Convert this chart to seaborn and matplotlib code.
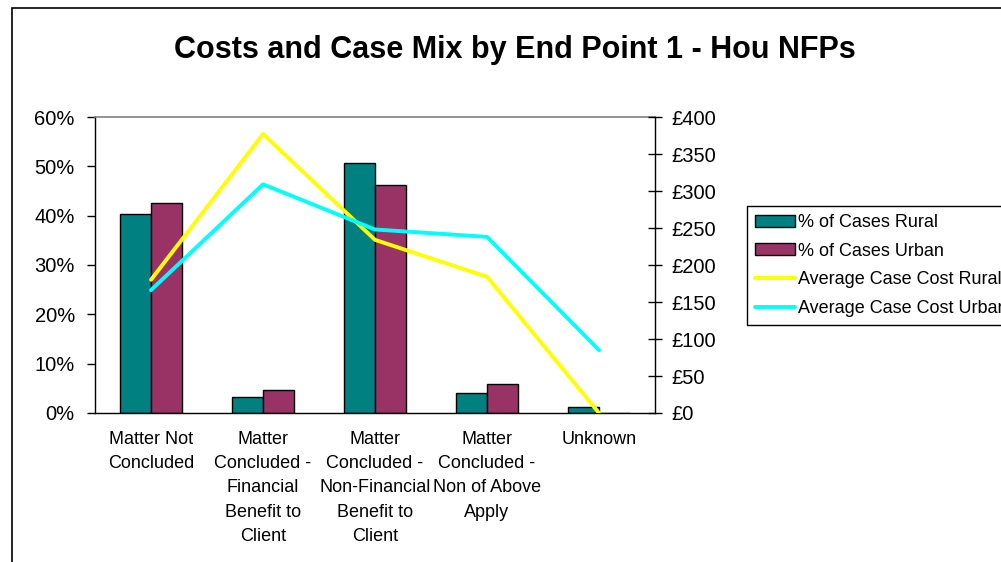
import matplotlib
matplotlib.use("Agg")
import matplotlib.pyplot as plt
import seaborn as sns
import numpy as np
import pandas as pd
from matplotlib.patches import Patch, Rectangle
from matplotlib.lines import Line2D
from matplotlib.ticker import FuncFormatter, MultipleLocator

categories = [
    "Matter Not\nConcluded",
    "Matter\nConcluded -\nFinancial\nBenefit to\nClient",
    "Matter\nConcluded -\nNon-Financial\nBenefit to\nClient",
    "Matter\nConcluded -\nNon of Above\nApply",
    "Unknown",
]
pct_rural = [40.3, 3.2, 50.7, 4.1, 1.15]
pct_urban = [42.6, 4.7, 46.2, 5.9, 0.0]
cost_rural = [180, 377, 234, 184, 0]
cost_urban = [166, 309, 248, 238, 85]
bar_series = ["% of Cases Rural", "% of Cases Urban"]
line_series = ["Average Case Cost Rural", "Average Case Cost Urban"]
title = "Costs and Case Mix by End Point 1 - Hou NFPs"

sns.set_theme(style="white")
plt.rcParams["font.family"] = ["Liberation Sans", "DejaVu Sans"]
plt.rcParams["text.color"] = "black"
plt.rcParams["xtick.color"] = "black"
plt.rcParams["ytick.color"] = "black"

W, H = 1001, 562
fig = plt.figure(figsize=(W / 100, H / 100), dpi=100)
ax = fig.add_axes([95 / W, 1 - 413 / H, (655 - 95) / W, (413 - 117) / H])

bars_df = pd.DataFrame({
    "cat": categories * 2,
    "val": pct_rural + pct_urban,
    "series": [bar_series[0]] * 5 + [bar_series[1]] * 5,
})
bar_colors = ["#008080", "#993366"]
sns.barplot(data=bars_df, x="cat", y="val", hue="series", order=categories,
            hue_order=bar_series, palette=bar_colors, width=0.56, dodge=True,
            edgecolor="black", linewidth=1.0, saturation=1, ax=ax, legend=False)
ax.set_xlim(-0.5, len(categories) - 0.5)
ax.set_ylim(0, 60)
ax.yaxis.set_major_locator(MultipleLocator(10))
ax.yaxis.set_major_formatter(FuncFormatter(lambda v, p: f"{v:.0f}%"))
ax.set_xlabel("")
ax.set_ylabel("")
ax.set_xticks(range(len(categories)))
ax.set_xticklabels(categories, fontsize=13, linespacing=1.55, va="top")
ax.set_xticks(np.arange(-0.5, len(categories), 1), minor=True)
ax.tick_params(axis="x", which="major", length=0, pad=13)
ax.tick_params(axis="x", which="minor", length=5, width=1, color="black", direction="out")
ax.tick_params(axis="y", which="major", length=6, width=1, color="black",
               direction="out", labelsize=14.5, pad=8.5, left=True)

for s in ["left", "bottom"]:
    ax.spines[s].set_color("black")
    ax.spines[s].set_linewidth(1)
ax.spines["top"].set_color("#808080")
ax.spines["top"].set_linewidth(1.2)
ax.spines["right"].set_visible(False)

ax2 = ax.twinx()
lines_df = pd.DataFrame({
    "x": list(np.arange(len(categories))) * 2,
    "cost": cost_rural + cost_urban,
    "series": [line_series[0]] * 5 + [line_series[1]] * 5,
})
line_colors = ["#FFFF00", "#00FFFF"]
sns.lineplot(data=lines_df, x="x", y="cost", hue="series", hue_order=line_series,
             palette=line_colors, linewidth=2.8, ax=ax2, legend=False)
ax2.set_xlim(-0.5, len(categories) - 0.5)
ax2.set_ylim(0, 400)
ax2.yaxis.set_major_locator(MultipleLocator(50))
ax2.yaxis.set_major_formatter(FuncFormatter(lambda v, p: f"£{v:.0f}"))
ax2.set_ylabel("")
ax2.tick_params(axis="y", which="major", length=10, width=1, color="black",
                direction="inout", labelsize=14.5, pad=7, right=True)
for s in ["left", "top", "bottom"]:
    ax2.spines[s].set_visible(False)
ax2.spines["right"].set_color("black")
ax2.spines["right"].set_linewidth(1)

handles = [
    Patch(facecolor=bar_colors[0], edgecolor="black", label=bar_series[0]),
    Patch(facecolor=bar_colors[1], edgecolor="black", label=bar_series[1]),
    Line2D([0], [0], color=line_colors[0], lw=2.8, label=line_series[0]),
    Line2D([0], [0], color=line_colors[1], lw=2.8, label=line_series[1]),
]
leg = fig.legend(handles=handles, loc="upper left",
                 bbox_to_anchor=(747 / W, 1 - 206 / H), fontsize=13,
                 frameon=True, fancybox=False, framealpha=1, edgecolor="black",
                 handlelength=2.2, handleheight=0.65, handletextpad=0.2,
                 labelspacing=0.64, borderpad=0.45, borderaxespad=0)
leg.get_frame().set_linewidth(1)

fig.text(515 / W, 1 - 50 / H, title, ha="center", va="center",
         fontsize=22, fontweight="bold", color="black")

fig.patches.append(Rectangle((12 / W, -0.1), 1.2, 1 - 8 / H + 0.1,
                             transform=fig.transFigure, fill=False,
                             edgecolor="black", linewidth=1.2))

fig.savefig("out.png", dpi=100)
